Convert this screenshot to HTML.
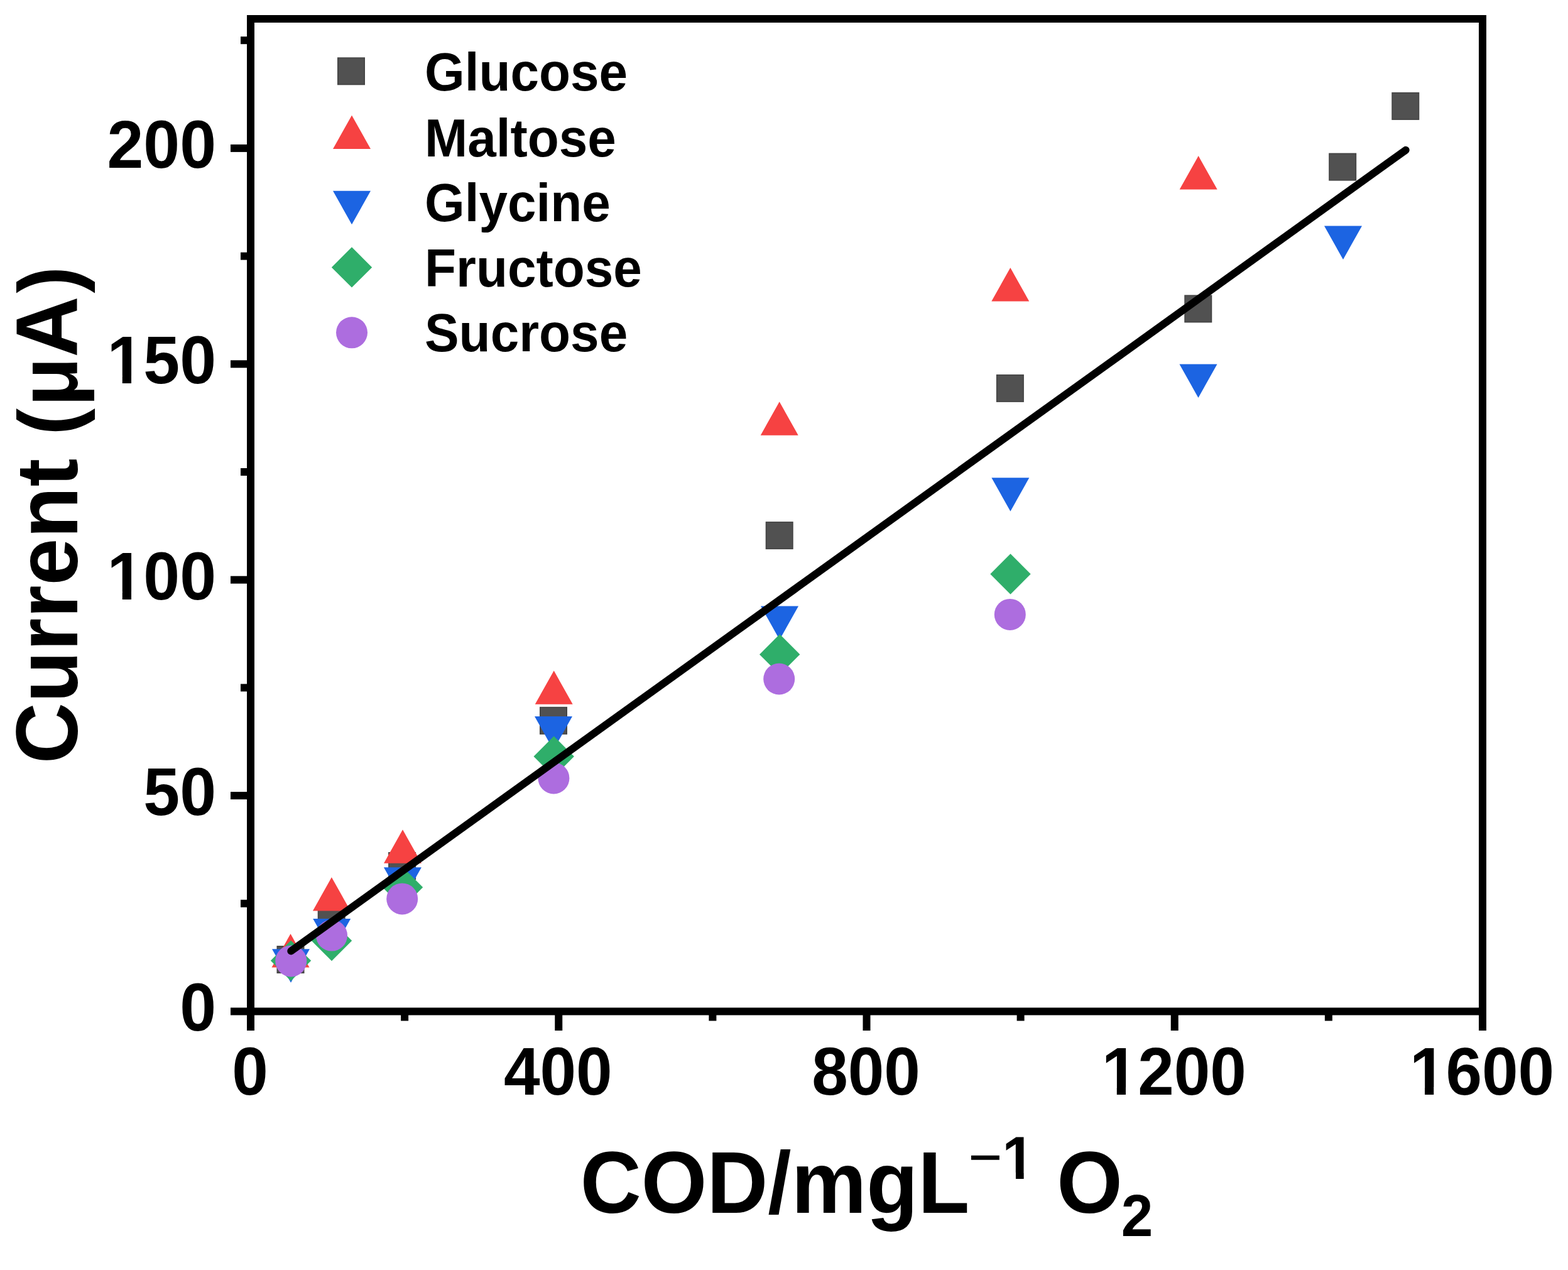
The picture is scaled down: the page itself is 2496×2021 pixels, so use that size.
<!DOCTYPE html>
<html><head><meta charset="utf-8"><title>COD calibration</title>
<style>
html,body{margin:0;padding:0;background:#fff;}
body{width:2496px;height:2021px;overflow:hidden;}
svg{display:block;}
text{font-family:'Liberation Sans', Arial, sans-serif;font-weight:bold;fill:#000;}
</style></head><body>
<svg width="2496" height="2021" viewBox="0 0 2496 2021">
<rect width="2496" height="2021" fill="#fff"/>
<rect x="393" y="24" width="1973" height="12" fill="#000"/>
<rect x="393" y="1603.5" width="1973" height="12" fill="#000"/>
<rect x="393" y="24" width="12" height="1591.5" fill="#000"/>
<rect x="2354" y="24" width="12" height="1591.5" fill="#000"/>
<rect x="367" y="1603.50" width="27" height="12" fill="#000"/>
<rect x="367" y="1260.10" width="27" height="12" fill="#000"/>
<rect x="367" y="916.70" width="27" height="12" fill="#000"/>
<rect x="367" y="573.30" width="27" height="12" fill="#000"/>
<rect x="367" y="229.90" width="27" height="12" fill="#000"/>
<rect x="383" y="1431.80" width="11" height="12" fill="#000"/>
<rect x="383" y="1088.40" width="11" height="12" fill="#000"/>
<rect x="383" y="745.00" width="11" height="12" fill="#000"/>
<rect x="383" y="401.60" width="11" height="12" fill="#000"/>
<rect x="383" y="58.20" width="11" height="12" fill="#000"/>
<rect x="393.00" y="1614.5" width="12" height="25.50" fill="#000"/>
<rect x="883.25" y="1614.5" width="12" height="25.50" fill="#000"/>
<rect x="1373.50" y="1614.5" width="12" height="25.50" fill="#000"/>
<rect x="1863.75" y="1614.5" width="12" height="25.50" fill="#000"/>
<rect x="2354.00" y="1614.5" width="12" height="25.50" fill="#000"/>
<rect x="638.12" y="1614.5" width="12" height="10.00" fill="#000"/>
<rect x="1128.38" y="1614.5" width="12" height="10.00" fill="#000"/>
<rect x="1618.62" y="1614.5" width="12" height="10.00" fill="#000"/>
<rect x="2108.88" y="1614.5" width="12" height="10.00" fill="#000"/>
<text transform="translate(344,1640.30) scale(1,1.04)" font-size="104" text-anchor="end">0</text>
<text transform="translate(344,1296.90) scale(1,1.04)" font-size="104" text-anchor="end">50</text>
<g transform="translate(344,953.50) scale(1,1.04)"><text font-size="104" text-anchor="end">100</text><rect x="-168.16" y="-11.41" width="18.92" height="12.61" fill="#fff"/><rect x="-134.97" y="-11.41" width="17.60" height="12.61" fill="#fff"/></g>
<g transform="translate(344,610.10) scale(1,1.04)"><text font-size="104" text-anchor="end">150</text><rect x="-168.16" y="-11.41" width="18.92" height="12.61" fill="#fff"/><rect x="-134.97" y="-11.41" width="17.60" height="12.61" fill="#fff"/></g>
<text transform="translate(344,266.70) scale(1,1.04)" font-size="104" text-anchor="end">200</text>
<text transform="translate(398.00,1742) scale(1,1.04)" font-size="103.5" text-anchor="middle">0</text>
<text transform="translate(888.25,1742) scale(1,1.04)" font-size="103.5" text-anchor="middle">400</text>
<text transform="translate(1378.50,1742) scale(1,1.04)" font-size="103.5" text-anchor="middle">800</text>
<g transform="translate(1868.75,1742) scale(1,1.04)"><text font-size="103.5" text-anchor="middle">1200</text><rect x="-109.79" y="-11.36" width="18.84" height="12.56" fill="#fff"/><rect x="-76.76" y="-11.36" width="17.52" height="12.56" fill="#fff"/></g>
<g transform="translate(2359.00,1742) scale(1,1.04)"><text font-size="103.5" text-anchor="middle">1600</text><rect x="-109.79" y="-11.36" width="18.84" height="12.56" fill="#fff"/><rect x="-76.76" y="-11.36" width="17.52" height="12.56" fill="#fff"/></g>
<text transform="translate(123,819.5) rotate(-90) scale(1,1.04)" font-size="134.4" text-anchor="middle">Current <tspan font-size="128">(</tspan><tspan font-size="128" dx="3">μ</tspan>A<tspan font-size="128" dx="5">)</tspan></text>
<g transform="translate(1379.5,1929.5) scale(1,1.04)"><text font-size="134.4" text-anchor="middle">COD/mgL<tspan font-size="92.5" dy="-53" dx="-2" font-weight="normal">−</tspan><tspan font-size="92.5" dy="2">1</tspan><tspan dy="51" dx="-2"> O</tspan><tspan font-size="91" dy="35.7" dx="-2">2</tspan></text><rect x="220.51" y="-61.24" width="16.96" height="11.44" fill="#fff"/><rect x="250.16" y="-61.24" width="15.79" height="11.44" fill="#fff"/></g>
<rect x="441.30" y="1505.80" width="42.4" height="42.4" fill="#515151" stroke="#444" stroke-width="1.6"/>
<rect x="506.50" y="1440.80" width="42.4" height="42.4" fill="#515151" stroke="#444" stroke-width="1.6"/>
<rect x="618.90" y="1356.80" width="42.4" height="42.4" fill="#515151" stroke="#444" stroke-width="1.6"/>
<rect x="859.80" y="1125.60" width="42.4" height="42.4" fill="#515151" stroke="#444" stroke-width="1.6"/>
<rect x="1219.50" y="830.90" width="42.4" height="42.4" fill="#515151" stroke="#444" stroke-width="1.6"/>
<rect x="1586.70" y="596.70" width="42.4" height="42.4" fill="#515151" stroke="#444" stroke-width="1.6"/>
<rect x="1886.10" y="470.20" width="42.4" height="42.4" fill="#515151" stroke="#444" stroke-width="1.6"/>
<rect x="2116.00" y="244.40" width="42.4" height="42.4" fill="#515151" stroke="#444" stroke-width="1.6"/>
<rect x="2216.10" y="147.70" width="42.4" height="42.4" fill="#515151" stroke="#444" stroke-width="1.6"/>
<polygon points="462.50,1486.10 492.50,1539.60 432.50,1539.60" fill="#f64242"/>
<polygon points="527.90,1396.10 557.90,1449.60 497.90,1449.60" fill="#f64242"/>
<polygon points="641.00,1320.30 671.00,1373.80 611.00,1373.80" fill="#f64242"/>
<polygon points="881.70,1067.20 911.70,1120.70 851.70,1120.70" fill="#f64242"/>
<polygon points="1240.70,639.20 1270.70,692.70 1210.70,692.70" fill="#f64242"/>
<polygon points="1608.30,425.90 1638.30,479.40 1578.30,479.40" fill="#f64242"/>
<polygon points="1907.70,248.10 1937.70,301.60 1877.70,301.60" fill="#f64242"/>
<polygon points="433.00,1510.20 493.00,1510.20 463.00,1563.70" fill="#1c64e2"/>
<polygon points="498.20,1462.00 558.20,1462.00 528.20,1515.50" fill="#1c64e2"/>
<polygon points="610.90,1380.20 670.90,1380.20 640.90,1433.70" fill="#1c64e2"/>
<polygon points="851.00,1140.10 911.00,1140.10 881.00,1193.60" fill="#1c64e2"/>
<polygon points="1211.00,964.50 1271.00,964.50 1241.00,1018.00" fill="#1c64e2"/>
<polygon points="1578.40,760.20 1638.40,760.20 1608.40,813.70" fill="#1c64e2"/>
<polygon points="1877.50,579.50 1937.50,579.50 1907.50,633.00" fill="#1c64e2"/>
<polygon points="2108.00,359.40 2168.00,359.40 2138.00,412.90" fill="#1c64e2"/>
<polygon points="463.00,1496.60 495.20,1528.80 463.00,1561.00 430.80,1528.80" fill="#2fae6a"/>
<polygon points="528.00,1464.80 560.20,1497.00 528.00,1529.20 495.80,1497.00" fill="#2fae6a"/>
<polygon points="641.00,1379.80 673.20,1412.00 641.00,1444.20 608.80,1412.00" fill="#2fae6a"/>
<polygon points="881.70,1171.50 913.90,1203.70 881.70,1235.90 849.50,1203.70" fill="#2fae6a"/>
<polygon points="1241.20,1009.20 1273.40,1041.40 1241.20,1073.60 1209.00,1041.40" fill="#2fae6a"/>
<polygon points="1608.50,881.30 1640.70,913.50 1608.50,945.70 1576.30,913.50" fill="#2fae6a"/>
<circle cx="463.30" cy="1529.40" r="25.0" fill="#ad6ddf"/>
<circle cx="528.00" cy="1488.60" r="25.0" fill="#ad6ddf"/>
<circle cx="640.20" cy="1430.40" r="25.0" fill="#ad6ddf"/>
<circle cx="881.40" cy="1238.40" r="25.0" fill="#ad6ddf"/>
<circle cx="1240.20" cy="1080.50" r="25.0" fill="#ad6ddf"/>
<circle cx="1607.80" cy="977.90" r="25.0" fill="#ad6ddf"/>
<line x1="463.3" y1="1513.4" x2="2237.7" y2="238.8" stroke="#000" stroke-width="12" stroke-linecap="round"/>
<rect x="537.80" y="92.10" width="42.4" height="42.4" fill="#515151" stroke="#444" stroke-width="1.6"/>
<polygon points="560.00,183.50 590.00,237.00 530.00,237.00" fill="#f64242"/>
<polygon points="530.00,303.67 590.00,303.67 560.00,357.17" fill="#1c64e2"/>
<polygon points="560.00,393.20 592.20,425.40 560.00,457.60 527.80,425.40" fill="#2fae6a"/>
<circle cx="560.00" cy="529.30" r="25.0" fill="#ad6ddf"/>
<text transform="translate(676,144.1) scale(1,1.04)" font-size="81.9">Glucose</text>
<text transform="translate(676,248.6) scale(1,1.04)" font-size="81.9">Maltose</text>
<text transform="translate(676,351.8) scale(1,1.04)" font-size="81.9">Glycine</text>
<text transform="translate(676,455.7) scale(1,1.04)" font-size="81.9">Fructose</text>
<text transform="translate(676,559.0) scale(1,1.04)" font-size="81.9">Sucrose</text>
</svg>
</body></html>
